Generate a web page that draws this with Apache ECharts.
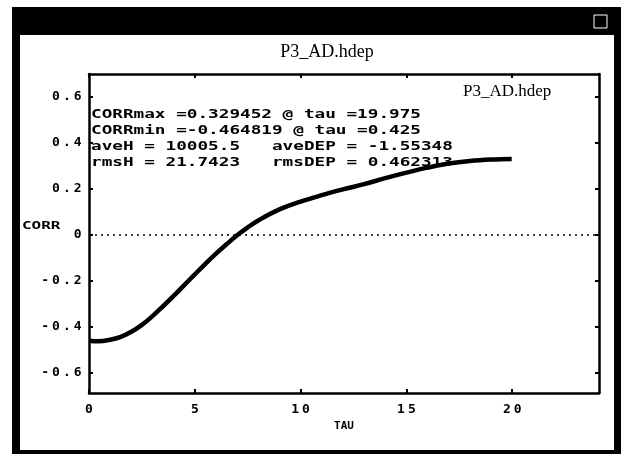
<!DOCTYPE html>
<html>
<head>
<meta charset="utf-8">
<script src="https://cdn.jsdelivr.net/npm/echarts@6/dist/echarts.min.js"></script>
<style>html,body{margin:0;padding:0;background:#fff}#c{width:628px;height:456px}</style>
</head>
<body>
<div id="c"></div>
<script>
// ---- data ----
var chartTitle = 'P3_AD.hdep';
var seriesName = 'P3_AD.hdep';
var xName = 'TAU';
var yName = 'CORR';
var tau  = [0, 0.425, 1, 1.5, 2, 2.5, 3, 3.5, 4, 4.5, 5, 5.5, 6, 6.5, 7, 7.5, 8, 9, 10, 11, 12, 13, 14, 15, 16, 17, 18, 19, 19.975];
var corr = [-0.462, -0.4648, -0.458, -0.445, -0.423, -0.393, -0.355, -0.312, -0.267, -0.22, -0.173, -0.127, -0.083, -0.042, -0.003, 0.032, 0.062, 0.11, 0.144, 0.172, 0.197, 0.22, 0.246, 0.27, 0.292, 0.31, 0.321, 0.327, 0.3295];
var xTicks = [0, 5, 10, 15, 20];
var yTicks = [-0.6, -0.4, -0.2, 0, 0.2, 0.4, 0.6];
var statLines = [
  'CORRmax =0.329452 @ tau =19.975',
  'CORRmin =-0.464819 @ tau =0.425',
  'aveH = 10005.5   aveDEP = -1.55348',
  'rmsH = 21.7423   rmsDEP = 0.462313'
];

// ---- chart ----
var points = tau.map(function (t, i) { return [t, corr[i]]; });
var MONO = '"DejaVu Sans Mono", "Liberation Mono", monospace';
var cellRich = { c: { fontFamily: MONO, fontWeight: 'bold', fontSize: 13, color: '#000', width: 10.8, align: 'center' } };
function cells(s) { return s.split('').map(function (ch) { return '{c|' + ch + '}'; }).join(''); }
function yFmt(v) { var s = Math.abs(v) < 1e-9 ? '0' : v.toFixed(1); return cells(s); }
function xFmt(v) { return cells(String(Math.round(v))); }

var axisLine = { show: true, onZero: false, lineStyle: { color: '#000', width: 2.5 } };
var tick = function (vals) { return { show: true, inside: true, length: 4, lineStyle: { color: '#000', width: 2 }, customValues: vals }; };

var chart = echarts.init(document.getElementById('c'), null, { renderer: 'canvas' });
chart.setOption({
  backgroundColor: '#fff',
  animation: false,
  grid: { left: 89, right: 29, top: 74, bottom: 63 },
  legend: {
    data: [seriesName], icon: 'none', left: 453, top: 78, itemWidth: 0, itemGap: 0,
    textStyle: { fontFamily: '"Liberation Serif", "DejaVu Serif", serif', fontSize: 17, color: '#000' }
  },
  xAxis: [{
    type: 'value', min: 0, max: 24.1, position: 'bottom',
    name: xName, nameLocation: 'middle', nameGap: 27,
    nameTextStyle: { fontFamily: MONO, fontWeight: 'bold', fontSize: 11, color: '#000' },
    axisLine: axisLine, axisTick: tick(xTicks), splitLine: { show: false },
    axisLabel: { customValues: xTicks, formatter: xFmt, rich: cellRich, margin: 10 }
  }, {
    type: 'value', min: 0, max: 24.1, position: 'top',
    axisLine: axisLine, axisTick: tick(xTicks), splitLine: { show: false }, axisLabel: { show: false }
  }],
  yAxis: [{
    type: 'value', min: -0.69, max: 0.70, position: 'left',
    axisLine: axisLine, axisTick: tick(yTicks), splitLine: { show: false },
    axisLabel: { customValues: yTicks, formatter: yFmt, rich: cellRich, margin: 6 }
  }, {
    type: 'value', min: -0.69, max: 0.70, position: 'right',
    axisLine: axisLine, axisTick: tick(yTicks), splitLine: { show: false }, axisLabel: { show: false }
  }],
  series: [{
    name: seriesName, type: 'line', data: points, smooth: 0.4, showSymbol: false,
    lineStyle: { color: '#000', width: 4.5 }, itemStyle: { color: '#000' },
    markLine: {
      silent: true, symbol: 'none', label: { show: false },
      lineStyle: { color: '#000', width: 1.5, type: [2, 4] },
      data: [{ yAxis: 0 }]
    }
  }],
  graphic: [
    // window frame
    { type: 'rect', shape: { x: 12, y: 7, width: 609, height: 28 }, style: { fill: '#000' } },
    { type: 'rect', shape: { x: 12, y: 7, width: 8, height: 447 }, style: { fill: '#000' } },
    { type: 'rect', shape: { x: 614, y: 7, width: 7, height: 446 }, style: { fill: '#000' } },
    { type: 'rect', shape: { x: 12, y: 450, width: 609, height: 4 }, style: { fill: '#000' } },
    { type: 'rect', shape: { x: 594, y: 15, width: 13, height: 13 }, style: { fill: 'none', stroke: '#fff', lineWidth: 1 } },
    // title
    { type: 'text', x: 327, y: 52, style: { text: chartTitle, textAlign: 'center', textVerticalAlign: 'middle',
      font: '18px "Liberation Serif", "DejaVu Serif", serif', fill: '#000' } },
    // y axis name
    { type: 'text', x: 22, y: 226, scaleX: 1.45, style: { text: yName, textAlign: 'left', textVerticalAlign: 'middle',
      font: 'bold 11px ' + MONO, fill: '#000' } },
    // statistics block
    { type: 'text', x: 91, y: 107, scaleX: 1.36, style: { text: statLines.join('\n'), lineHeight: 16,
      font: 'bold 13px ' + MONO, fill: '#000', textAlign: 'left', textVerticalAlign: 'top' } }
  ]
});
</script>
</body>
</html>
